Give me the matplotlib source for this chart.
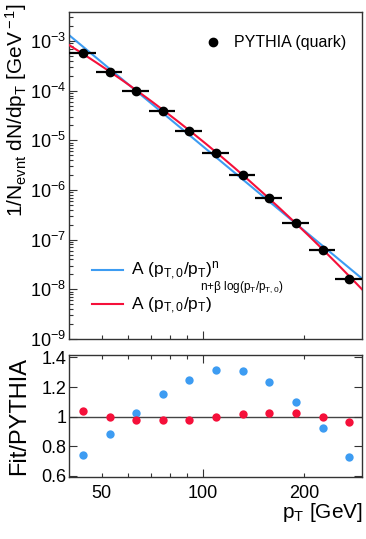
"""
PYTHIA quark-jet pT spectrum with power-law / log-parabola fits, plus Fit/PYTHIA ratio
"""
import numpy as np
import matplotlib
matplotlib.use('Agg')
import matplotlib.pyplot as plt
from matplotlib.ticker import FixedLocator, FuncFormatter, NullFormatter

plt.rcParams['font.family'] = ['Liberation Sans', 'DejaVu Sans']
plt.rcParams['mathtext.fontset'] = 'custom'
plt.rcParams['mathtext.rm'] = 'Liberation Sans'
plt.rcParams['mathtext.it'] = 'Liberation Sans'
plt.rcParams['mathtext.bf'] = 'Liberation Sans:bold'

# pT bins [GeV]
bin_lo = [40.0, 48.0, 57.6, 69.1, 82.9, 99.5, 119.4, 143.3, 172.0, 206.4, 247.7]
bin_hi = [48.0, 57.6, 69.1, 82.9, 99.5, 119.4, 143.3, 172.0, 206.4, 247.7, 297.2]

# 1/N dN/dpT from PYTHIA (quark)
pythia_yield = [5.82e-4, 2.41e-4, 1.00e-4, 3.96e-5, 1.55e-5, 5.66e-6,
                2.01e-6, 6.87e-7, 2.15e-7, 6.24e-8, 1.62e-8]

# ratio panel
ratio_power = [0.74, 0.88, 1.025, 1.155, 1.25, 1.315, 1.31, 1.235, 1.10, 0.925, 0.725]
ratio_logpar = [1.04, 1.00, 0.978, 0.975, 0.978, 1.00, 1.018, 1.025, 1.022, 1.00, 0.966]

# fit parameters
pt0 = 40.0
A_power, n_power = 1.32e-3, 5.63
A_logpar, n_logpar, beta_logpar = 8.32e-4, 4.22, 1.64

col_blue = '#3d9cf2'
col_red = '#f5103a'

W, H = 366, 539
fig = plt.figure(figsize=(W / 100, H / 100), dpi=100)


def px_axes(left, top, right, bottom):
    return fig.add_axes([left / W, 1 - bottom / H, (right - left) / W, (bottom - top) / H])


ax1 = px_axes(69, 11.7, 362, 339)
ax2 = px_axes(69, 355, 362, 477)

lo = np.array(bin_lo)
hi = np.array(bin_hi)
xc = 0.5 * (lo + hi)

# fit curves
pt = np.geomspace(bin_lo[0], bin_hi[-1], 300)
w = np.log10(pt / pt0)
y_power = A_power * (pt0 / pt) ** n_power
y_logpar = A_logpar * (pt0 / pt) ** (n_logpar + beta_logpar * w)

ax1.plot(pt, y_power, color=col_blue, lw=1.5, zorder=2)
ax1.plot(pt, y_logpar, color=col_red, lw=1.5, zorder=3)
ax1.errorbar(xc, pythia_yield, xerr=[xc - lo, hi - xc], fmt='o', color='black',
             ms=6, elinewidth=1.6, capsize=0, zorder=4)

ax1.set_xscale('log')
ax1.set_yscale('log')
ax1.set_xlim(bin_lo[0], bin_hi[-1])
ax1.set_ylim(1e-9, 3.9e-3)

ax2.axhline(1.0, color='#444444', lw=1.0, zorder=1)
ax2.plot(xc, ratio_power, 'o', color=col_blue, ms=6, mec='none', zorder=3)
ax2.plot(xc, ratio_logpar, 'o', color=col_red, ms=6, mec='none', zorder=3)
ax2.set_xscale('log')
ax2.set_xlim(bin_lo[0], bin_hi[-1])
ax2.set_ylim(0.593, 1.416)

for ax in (ax1, ax2):
    for s in ax.spines.values():
        s.set_color('#333333')
        s.set_linewidth(1.0)
    ax.xaxis.set_major_locator(FixedLocator([100]))
    ax.xaxis.set_minor_locator(FixedLocator([50, 60, 70, 80, 90, 200]))
    ax.tick_params(which='both', direction='in', color='#333333', width=0.8,
                   labelsize=13, pad=2)
    ax.tick_params(which='major', length=6)
    ax.tick_params(which='minor', length=3)

# top panel ticks
ax1.xaxis.set_major_formatter(NullFormatter())
ax1.xaxis.set_minor_formatter(NullFormatter())
ax1.tick_params(which='both', top=False, right=False, labelbottom=False)
ax1.yaxis.set_major_locator(FixedLocator([10.0 ** k for k in range(-9, -2)]))
ax1.yaxis.set_minor_locator(FixedLocator([m * 10.0 ** k for k in range(-9, -2) for m in range(2, 10)]))
ax1.yaxis.set_major_formatter(FuncFormatter(lambda v, p: r'$10^{%d}$' % round(np.log10(v))))
ax1.yaxis.set_minor_formatter(NullFormatter())

# bottom panel ticks
ax2.tick_params(which='both', top=True, right=True)
ax2.tick_params(axis='x', which='both', pad=6)
ax2.xaxis.set_major_formatter(FuncFormatter(lambda v, p: '%d' % v))
ax2.xaxis.set_minor_formatter(FuncFormatter(lambda v, p: '%d' % v if v in (50, 200) else ''))
ax2.set_yticks([0.6, 0.8, 1.0, 1.2, 1.4])
ax2.set_yticklabels(['0.6', '0.8', '1', '1.2', '1.4'])
ax2.yaxis.set_minor_locator(FixedLocator([]))

# axis titles
fig.text(16 / W, 1 - 3 / H, r'1/N$_{\rm evnt}$ dN/dp$_{\rm T}$ [GeV$^{\rm -1}$]',
         rotation=90, ha='center', va='top', fontsize=15)
fig.text(19 / W, 1 - 416 / H, 'Fit/PYTHIA', rotation=90, ha='center', va='center', fontsize=17)
fig.text(363 / W, 1 - 518 / H, r'p$_{\rm T}$ [GeV]', ha='right', va='baseline', fontsize=15)

# legends
data_handle = plt.Line2D([], [], ls='none', marker='o', color='black', ms=6)
leg1 = ax1.legend([data_handle], ['PYTHIA (quark)'], loc='center left',
                  bbox_to_anchor=(201 / W, 1 - 43 / H), bbox_transform=fig.transFigure,
                  frameon=False, fontsize=11.5, handlelength=1.5, handletextpad=0.55,
                  borderpad=0, borderaxespad=0)
ax1.add_artist(leg1)

blue_handle = plt.Line2D([], [], color=col_blue, lw=1.5)
red_handle = plt.Line2D([], [], color=col_red, lw=1.5)
ax1.legend([blue_handle, red_handle],
           [r'A (p$_{\rm T,0}$/p$_{\rm T}$)$^{\rm n}$', r'A (p$_{\rm T,0}$/p$_{\rm T}$)'],
           loc='center left', bbox_to_anchor=(92 / W, 1 - 288 / H),
           bbox_transform=fig.transFigure, frameon=False, fontsize=12.5,
           handlelength=1.8, handletextpad=0.45, labelspacing=0.75,
           borderpad=0, borderaxespad=0)
fig.text(200 / W, 1 - 290 / H, r'n+$\beta$ log(p$_{\rm T}$/p$_{\rm T,0}$)',
         ha='left', va='baseline', fontsize=8.5)

fig.savefig('out.png', dpi=100)
